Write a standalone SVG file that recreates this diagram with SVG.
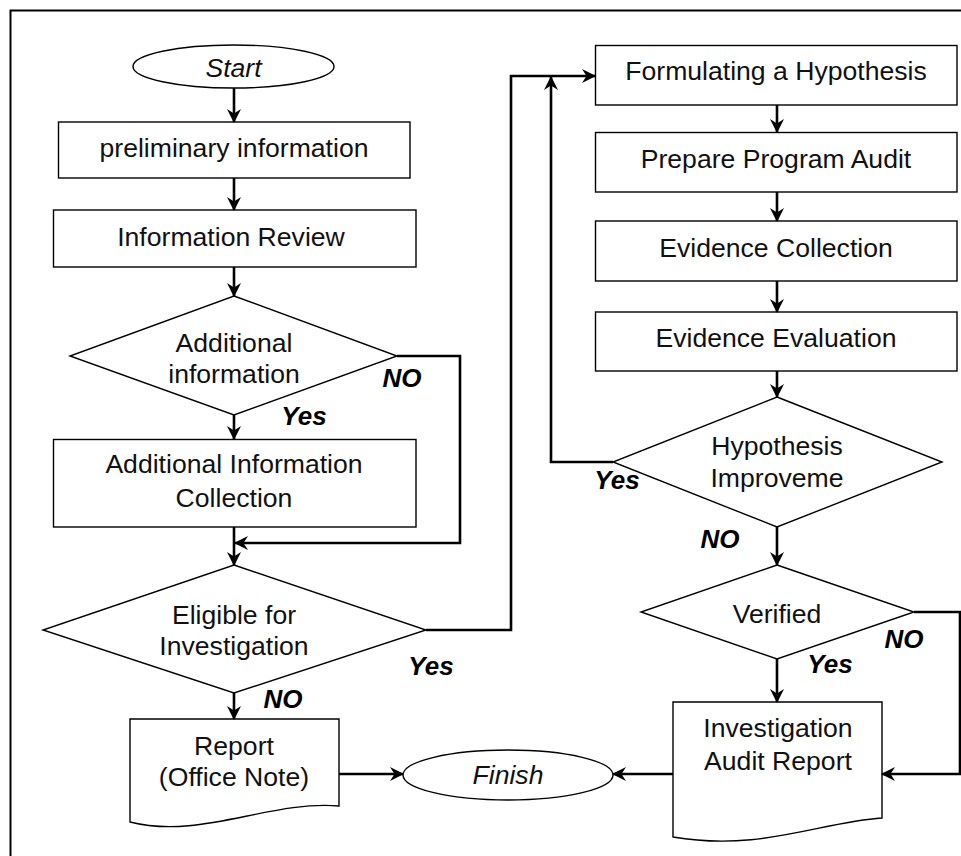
<svg xmlns="http://www.w3.org/2000/svg" width="961" height="856" viewBox="0 0 961 856">
<defs>
<style>
.shape{fill:#fff;stroke:#000;stroke-width:1.4}
.t{font-family:"Liberation Sans",Arial,sans-serif;font-size:26.6px;text-anchor:middle;fill:#111}
.it{font-style:italic}
.lbl{font-family:"Liberation Sans",Arial,sans-serif;font-size:26px;font-weight:bold;font-style:italic;text-anchor:middle;fill:#000}
.c{fill:none;stroke:#000;stroke-width:2.6;marker-end:url(#ah)}
</style>
<marker id="ah" markerUnits="userSpaceOnUse" markerWidth="14" markerHeight="14" viewBox="0 0 14 14" refX="13" refY="7" orient="auto">
<path d="M0,0 L14,7 L0,14 L4.5,7 z" fill="#000"/>
</marker>
</defs>
<rect x="0" y="0" width="961" height="856" fill="#fff"/>
<path d="M10.5,856 V10.5 H961" fill="none" stroke="#000" stroke-width="2"/>

<g id="start"><ellipse class="shape" cx="233.5" cy="66.5" rx="100.5" ry="21.5"/><text class="t it" x="233.5" y="77">Start</text></g>
<g id="preliminary"><rect class="shape" x="58.5" y="122" width="351.5" height="56"/><text class="t" x="234" y="157">preliminary information</text></g>
<g id="review"><rect class="shape" x="53.5" y="210" width="362.5" height="57"/><text class="t" x="231" y="246">Information Review</text></g>
<g id="additional"><polygon class="shape" points="234,296 397,356 234,415 70,356"/><text class="t" x="234" y="352">Additional</text><text class="t" x="234" y="383">information</text></g>
<g id="collection"><rect class="shape" x="53.5" y="439.5" width="362.5" height="87.5"/><text class="t" x="234" y="473">Additional Information</text><text class="t" x="234" y="507">Collection</text></g>
<g id="eligible"><polygon class="shape" points="234,565 426,630 234,693 43,630"/><text class="t" x="234" y="624">Eligible for</text><text class="t" x="234" y="655">Investigation</text></g>
<g id="report"><path class="shape" d="M130,719 H339 V806 C270,800 200,840 130,822 Z"/><text class="t" x="234" y="755">Report</text><text class="t" x="234" y="786">(Office Note)</text></g>
<g id="finish"><ellipse class="shape" cx="508" cy="775" rx="105" ry="25"/><text class="t it" x="508" y="784">Finish</text></g>

<g id="hypothesis"><rect class="shape" x="595.5" y="45.5" width="361.5" height="59.5"/><text class="t" x="776" y="80">Formulating a Hypothesis</text></g>
<g id="prepare"><rect class="shape" x="595.5" y="132.5" width="361.5" height="59.5"/><text class="t" x="776" y="168">Prepare Program Audit</text></g>
<g id="evcollection"><rect class="shape" x="595.5" y="221" width="361.5" height="60"/><text class="t" x="776" y="257">Evidence Collection</text></g>
<g id="evevaluation"><rect class="shape" x="595.5" y="312" width="361.5" height="59"/><text class="t" x="776" y="347">Evidence Evaluation</text></g>
<g id="improve"><polygon class="shape" points="777,397 942,462 777,527 613,462"/><text class="t" x="777" y="455">Hypothesis</text><text class="t" x="777" y="487">Improveme</text></g>
<g id="verified"><polygon class="shape" points="777,565 914,612 777,659 641,612"/><text class="t" x="777" y="623">Verified</text></g>
<g id="auditreport"><path class="shape" d="M673,702 H882 V818 C820,822 760,852 673,837 Z"/><text class="t" x="778" y="737">Investigation</text><text class="t" x="778" y="770">Audit Report</text></g>

<g id="connectors">
<path class="c" d="M234,88 V122"/>
<path class="c" d="M234,178 V210"/>
<path class="c" d="M234,267 V296"/>
<path class="c" d="M234,415 V439"/>
<path class="c" d="M234,527 V565"/>
<path class="c" d="M397,356 H460 V543 H235"/>
<path class="c" d="M426,630 H511 V76 H595"/>
<path class="c" d="M234,693 V719"/>
<path class="c" d="M339,774 H403"/>
<path class="c" d="M777,105 V132"/>
<path class="c" d="M777,192 V221"/>
<path class="c" d="M777,281 V312"/>
<path class="c" d="M777,371 V397"/>
<path class="c" d="M613,462 H551 V77"/>
<path class="c" d="M777,527 V565"/>
<path class="c" d="M777,659 V702"/>
<path class="c" d="M914,612 H960 V774 H882"/>
<path class="c" d="M673,774 H613"/>
</g>

<g id="labels">
<text class="lbl" x="402" y="387">NO</text>
<text class="lbl" x="304" y="425">Yes</text>
<text class="lbl" x="431" y="675">Yes</text>
<text class="lbl" x="283" y="708">NO</text>
<text class="lbl" x="617" y="489">Yes</text>
<text class="lbl" x="720" y="548">NO</text>
<text class="lbl" x="904" y="648">NO</text>
<text class="lbl" x="830" y="673">Yes</text>
</g>
</svg>
